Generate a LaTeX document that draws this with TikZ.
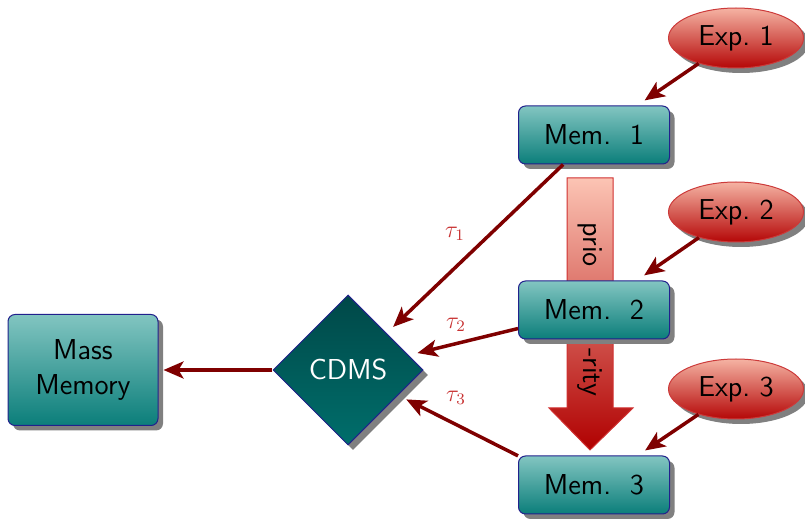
\documentclass[tikz,border=0pt]{standalone}
\usetikzlibrary{shapes.geometric,shadows,arrows.meta}
\definecolor{memtop}{HTML}{82C5C1}
\definecolor{membot}{HTML}{0B7E7A}
\definecolor{navyline}{HTML}{21218C}
\definecolor{exptop}{HTML}{F5B3A3}
\definecolor{expbot}{HTML}{B50707}
\definecolor{expline}{HTML}{CC3A3A}
\definecolor{cdmstop}{HTML}{004848}
\definecolor{cdmsbot}{HTML}{006E6B}
\definecolor{linkred}{HTML}{7F0000}
\definecolor{taured}{HTML}{C83232}
\definecolor{shadowgray}{HTML}{808080}
\definecolor{priotop}{HTML}{FCC4B4}
\definecolor{priobot}{HTML}{B00000}
\definecolor{prioline}{HTML}{D03030}
\begin{document}
\begin{tikzpicture}[x=0.5pt,y=-0.5pt,
  font=\sffamily\fontsize{14.4}{17}\selectfont,
  shadowed/.style={drop shadow={shadow xshift=2.5pt,shadow yshift=-2.5pt,fill=shadowgray,opacity=1}},
  membox/.style={rectangle,rounded corners=3.5pt,draw=navyline,line width=0.5pt,
    top color=memtop,bottom color=membot,minimum width=75.5pt,minimum height=29pt,shadowed},
  expnode/.style={ellipse,draw=expline,line width=0.5pt,top color=exptop,bottom color=expbot,
    inner sep=0pt,minimum width=67.5pt,minimum height=30pt,shadowed},
  hub/.style={diamond,aspect=1,draw=navyline,line width=0.5pt,top color=cdmstop,bottom color=cdmsbot,
    inner sep=0pt,minimum size=75pt,text=white,shadowed},
  link/.style={draw=linkred,line width=1.75pt,-{Stealth[length=10pt,width=8.5pt,inset=2.5pt]},shorten >=4.5pt},
  taulabel/.style={text=taured,font=\fontsize{12}{14}\selectfont},
  priotext/.style={rotate=-90,font=\sffamily\fontsize{14.4}{17}\selectfont}]
\useasboundingbox (0,0) rectangle (805,519);

% priority arrow behind the memory column
\shade[top color=priotop,bottom color=priobot,draw=prioline,line width=0.5pt]
  (567,178) -- (613,178) -- (613,408) -- (633,408) -- (590,450) -- (549,408) -- (567,408) -- cycle;
\node[priotext] (prio) at (590,245) {prio};
\node[priotext] (rity) at (590,372) {-rity};

% experiments
\node[expnode] (e1) at (736,38) {Exp.\ 1};
\node[expnode] (e2) at (736,212) {Exp.\ 2};
\node[expnode] (e3) at (736,389) {Exp.\ 3};

% memories
\node[membox] (m1) at (594,135) {Mem.\ \ 1};
\node[membox] (m2) at (594,310) {Mem.\ \ 2};
\node[membox] (m3) at (594,485) {Mem.\ \ 3};

% data management system and mass memory
\node[hub] (cdms) at (348,370) {CDMS};
\node[membox,minimum width=75pt,minimum height=55.5pt,align=center,
  font=\sffamily\fontsize{14.4}{17.5}\selectfont] (mass) at (83,370) {Mass\\Memory};

% connections
\draw[link] (e1) -- (m1);
\draw[link] (e2) -- (m2);
\draw[link] (e3) -- (m3);
\draw[link] (m1) -- (cdms);
\draw[link] (m2) -- (cdms);
\draw[link] (m3.159) -- (cdms);
\draw[link,shorten >=2.5pt] (cdms) -- (mass);

% delays
\node[taulabel] (t1) at (455,234) {$\tau_1$};
\node[taulabel] (t2) at (456,325) {$\tau_2$};
\node[taulabel] (t3) at (456,398) {$\tau_3$};
\end{tikzpicture}
\end{document}
